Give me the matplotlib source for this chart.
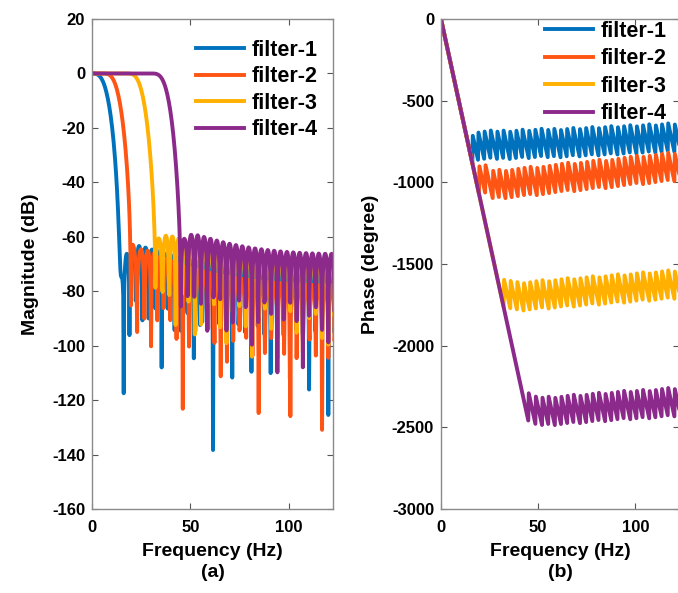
import numpy as np
import matplotlib
matplotlib.use("Agg")
import matplotlib.pyplot as plt

plt.rcParams['font.family'] = ['Liberation Sans', 'DejaVu Sans']
plt.rcParams['font.weight'] = 'bold'
plt.rcParams['axes.unicode_minus'] = False

# filter bank (sampling rate, length, -6 dB cutoffs)
fs = 250.0
n_taps = 77
n_points = 512
names = ['filter-1', 'filter-2', 'filter-3', 'filter-4']
cutoffs = [7.0, 12.7, 25.0, 37.7]
colors = ['#0072BD', '#FF5514', '#FFB000', '#8C2A8C']
# cosine window coefficients (between hamming and blackman)
win_coef = [0.504, 0.472, 0.024]

mag_ticks = [20, 0, -20, -40, -60, -80, -100, -120, -140, -160]
phase_ticks = [0, -500, -1000, -1500, -2000, -2500, -3000]
freq_ticks = [0, 50, 100]

# windowed-sinc low-pass FIR, response like freqz(b,1,512,fs)
n = np.arange(n_taps)
m = n - (n_taps - 1) / 2
arg = 2 * np.pi * n / (n_taps - 1)
win = win_coef[0] - win_coef[1] * np.cos(arg) + win_coef[2] * np.cos(2 * arg)
f = np.arange(n_points) * fs / 2 / n_points

mags = []
phases = []
for fc in cutoffs:
    h = 2 * fc / fs * np.sinc(2 * fc / fs * m) * win
    h = h / h.sum()
    H = np.exp(-2j * np.pi * np.outer(f, n) / fs) @ h
    mags.append(20 * np.log10(np.abs(H) + 1e-12))
    phases.append(np.degrees(np.unwrap(np.angle(H))))

W, Hpx = 678, 593
fig = plt.figure(figsize=(W / 100, Hpx / 100), dpi=100)
ax1 = fig.add_axes([92/W, 1 - 509/Hpx, (333-92)/W, (509-19)/Hpx])
ax2 = fig.add_axes([441/W, 1 - 509/Hpx, (679-441)/W, (509-19)/Hpx])

for i in range(4):
    ax1.plot(f, mags[i], color=colors[i], lw=2.8, label=names[i])
    ax2.plot(f, phases[i], color=colors[i], lw=2.8, label=names[i])

ax1.set_ylim(-160, 20)
ax1.set_yticks(mag_ticks)
ax1.set_ylabel('Magnitude (dB)', fontsize=14, fontweight='bold', labelpad=9)
ax1.set_xlabel('Frequency (Hz)\n(a)', fontsize=14, fontweight='bold',
               labelpad=6, linespacing=1.3)

ax2.set_ylim(-3000, 0)
ax2.set_yticks(phase_ticks)
ax2.set_ylabel('Phase (degree)', fontsize=14, fontweight='bold', labelpad=9)
ax2.set_xlabel('Frequency (Hz)\n(b)', fontsize=14, fontweight='bold',
               labelpad=6, linespacing=1.3)

for ax in (ax1, ax2):
    ax.set_xlim(0, 122.5)
    ax.set_xticks(freq_ticks)
    ax.tick_params(direction='in', top=True, right=True, length=4,
                   labelsize=12, color='#555555')
    ax.tick_params(axis='x', pad=8)
    ax.tick_params(axis='y', pad=5)
    for s in ax.spines.values():
        s.set_color('#8a8a8a')
        s.set_linewidth(1.0)
    for lab in ax.get_xticklabels() + ax.get_yticklabels():
        lab.set_fontweight('bold')

leg_kw = dict(loc='upper left', frameon=False, handlelength=2.25,
              handletextpad=0.35, borderpad=0,
              borderaxespad=0, bbox_transform=fig.transFigure,
              prop={'weight': 'bold', 'size': 15.5})
ax1.legend(bbox_to_anchor=(196/W, 1 - 40/Hpx), labelspacing=0.25, **leg_kw)
ax2.legend(bbox_to_anchor=(545/W, 1 - 21/Hpx), labelspacing=0.3, **leg_kw)

fig.savefig('out.png', dpi=100)
